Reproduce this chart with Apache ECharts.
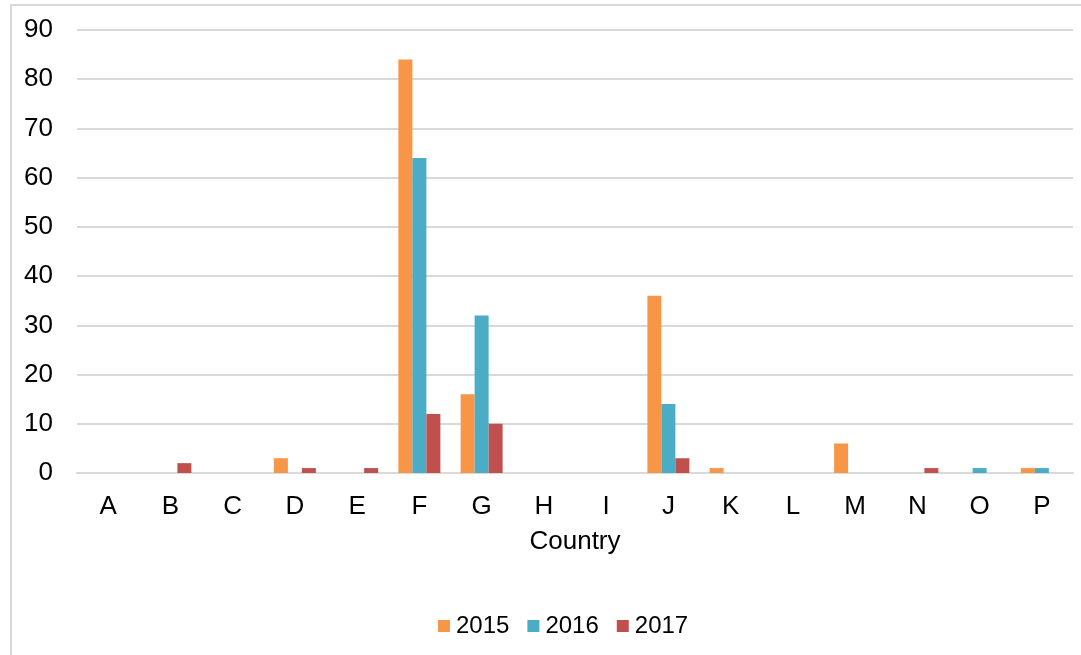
<!DOCTYPE html>
<html>
<head>
<meta charset="utf-8">
<script src="https://cdn.jsdelivr.net/npm/echarts@6/dist/echarts.min.js"></script>
<style>
  html, body { margin: 0; padding: 0; background: #fff; overflow: hidden; }
  #frame { position: absolute; left: 10px; top: 4px; width: 1200px; height: 800px; border: 2px solid #d9d9d9; }
  #main { position: absolute; left: 0; top: 0; width: 1081px; height: 655px; }
</style>
</head>
<body>
<div id="frame"></div>
<div id="main"></div>
<script>
var countries = ['A','B','C','D','E','F','G','H','I','J','K','L','M','N','O','P'];
var years = ['2015', '2016', '2017'];
var v2015 = [0, 0, 0, 3, 0, 84, 16, 0, 0, 36, 1, 0, 6, 0, 0, 1];
var v2016 = [0, 0, 0, 0, 0, 64, 32, 0, 0, 14, 0, 0, 0, 0, 1, 1];
var v2017 = [0, 2, 0, 1, 1, 12, 10, 0, 0, 3, 0, 0, 0, 1, 0, 0];
var yTicks = { min: 0, max: 90, interval: 10 };

var myChart = echarts.init(document.getElementById('main'));
var font = 'Liberation Sans, Arial, sans-serif';

var option = {
  color: ['#F79646', '#4BACC6', '#C0504D'],
  textStyle: { fontFamily: font },
  animation: false,
  grid: { left: 77, right: 8, top: 30, bottom: 182 },
  legend: {
    data: years,
    bottom: 12,
    left: 433,
    itemWidth: 12,
    itemHeight: 12,
    itemGap: 18,
    icon: 'rect',
    textStyle: { fontSize: 24, color: '#000', fontFamily: font, padding: [0, 0, 0, 1] }
  },
  xAxis: {
    type: 'category',
    data: countries,
    name: 'Country',
    nameLocation: 'middle',
    nameGap: 56,
    nameTextStyle: { fontSize: 26, color: '#000', fontFamily: font },
    axisLine: { lineStyle: { color: '#d9d9d9', width: 2 } },
    axisTick: { show: false },
    axisLabel: { fontSize: 26, color: '#000', margin: 21, fontFamily: font }
  },
  yAxis: {
    type: 'value',
    min: yTicks.min,
    max: yTicks.max,
    interval: yTicks.interval,
    axisLine: { show: false },
    axisTick: { show: false },
    axisLabel: { fontSize: 26, color: '#000', margin: 24, fontFamily: font },
    splitLine: { lineStyle: { color: '#d9d9d9', width: 2 } }
  },
  series: [
    { name: '2015', type: 'bar', data: v2015, barWidth: 14, barGap: '0%' },
    { name: '2016', type: 'bar', data: v2016, barWidth: 14, barGap: '0%' },
    { name: '2017', type: 'bar', data: v2017, barWidth: 14, barGap: '0%' }
  ]
};

myChart.setOption(option);
</script>
</body>
</html>
